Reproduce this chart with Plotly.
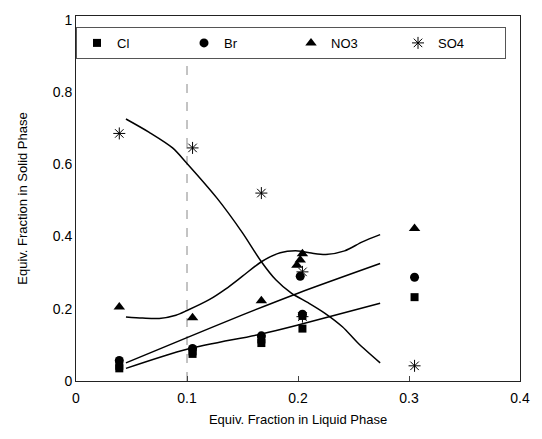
import plotly.graph_objects as go

# ---- data ----
cl_x = [0.039, 0.039, 0.105, 0.105, 0.167, 0.167, 0.204, 0.204, 0.305]
cl_y = [0.035, 0.042, 0.075, 0.082, 0.105, 0.115, 0.145, 0.18, 0.232]
br_x = [0.039, 0.105, 0.167, 0.202, 0.204, 0.305]
br_y = [0.057, 0.09, 0.125, 0.29, 0.185, 0.287]
no3_x = [0.039, 0.105, 0.167, 0.199, 0.202, 0.204, 0.305]
no3_y = [0.205, 0.175, 0.222, 0.32, 0.335, 0.352, 0.422]
so4_x = [0.039, 0.105, 0.167, 0.204, 0.204, 0.305]
so4_y = [0.685, 0.645, 0.52, 0.302, 0.178, 0.042]

# model curves
cl_fit_x = [0.045, 0.1, 0.167, 0.2, 0.274]
cl_fit_y = [0.035, 0.088, 0.13, 0.155, 0.215]
br_fit_x = [0.045, 0.1, 0.15, 0.2, 0.274]
br_fit_y = [0.05, 0.12, 0.183, 0.243, 0.325]
no3_fit_x = [0.045, 0.06, 0.075, 0.09, 0.1, 0.12, 0.135, 0.15, 0.167, 0.184, 0.2, 0.212, 0.225, 0.242, 0.258, 0.274]
no3_fit_y = [0.177, 0.174, 0.173, 0.182, 0.195, 0.225, 0.255, 0.29, 0.33, 0.355, 0.36, 0.354, 0.35, 0.36, 0.385, 0.405]
so4_fit_x = [0.045, 0.066, 0.087, 0.1, 0.127, 0.15, 0.167, 0.18, 0.194, 0.21, 0.224, 0.24, 0.254, 0.274]
so4_fit_y = [0.725, 0.688, 0.645, 0.602, 0.506, 0.41, 0.33, 0.28, 0.243, 0.215, 0.188, 0.15, 0.105, 0.05]

x_ticks = [0, 0.1, 0.2, 0.3, 0.4]
x_tick_text = ["0", "0.1", "0.2", "0.3", "0.4"]
y_ticks = [0, 0.2, 0.4, 0.6, 0.8, 1.0]
y_tick_text = ["0", "0.2", "0.4", "0.6", "0.8", "1"]

FONT = "Liberation Sans, Arial, sans-serif"

fig = go.Figure()

for fx, fy in [(cl_fit_x, cl_fit_y), (br_fit_x, br_fit_y), (no3_fit_x, no3_fit_y), (so4_fit_x, so4_fit_y)]:
    fig.add_trace(go.Scatter(x=fx, y=fy, mode="lines", line=dict(color="black", width=1.5, shape="spline", smoothing=0.8),
                             showlegend=False, hoverinfo="skip"))

fig.add_trace(go.Scatter(x=cl_x, y=cl_y, mode="markers", name="Cl",
                         marker=dict(symbol="square", size=8, color="black")))
fig.add_trace(go.Scatter(x=br_x, y=br_y, mode="markers", name="Br",
                         marker=dict(symbol="circle", size=9, color="black")))
fig.add_trace(go.Scatter(x=no3_x, y=no3_y, mode="markers", name="NO3",
                         marker=dict(symbol="triangle-up", size=10, color="black")))
fig.add_trace(go.Scatter(x=so4_x, y=so4_y, mode="markers", name="SO4",
                         marker=dict(symbol="asterisk-open", size=10, color="black",
                                     line=dict(color="black", width=1))))

fig.add_shape(type="line", x0=0.1, x1=0.1, y0=0, y1=0.95, xref="x", yref="y",
              line=dict(color="#888888", width=1, dash="dash"), layer="below")

fig.update_layout(
    width=542, height=439,
    margin=dict(l=76, r=18, t=16, b=58),
    paper_bgcolor="white", plot_bgcolor="white",
    font=dict(family=FONT, size=14, color="black"),
    showlegend=True,
    legend=dict(orientation="h", x=0, y=0.97, xanchor="left", yanchor="top",
                bordercolor="#555555", borderwidth=1, bgcolor="white",
                font=dict(size=13), entrywidth=62, entrywidthmode="pixels",
                tracegroupgap=0, itemwidth=30),
    xaxis=dict(range=[0, 0.4], tickvals=x_ticks, ticktext=x_tick_text,
               showgrid=False, zeroline=False, showline=True, linecolor="#222222", linewidth=1,
               mirror=True, ticks="inside", ticklen=5, tickcolor="#444444", ticklabelstandoff=4,
               title=dict(text="Equiv. Fraction in Liquid Phase", font=dict(size=13), standoff=10)),
    yaxis=dict(range=[0, 1.01], tickvals=y_ticks, ticktext=y_tick_text,
               showgrid=False, zeroline=False, showline=True, linecolor="#222222", linewidth=1,
               mirror=True, ticks="",
               title=dict(text="Equiv. Fraction in Solid Phase", font=dict(size=13), standoff=22)),
)

fig.write_html("out.html")
